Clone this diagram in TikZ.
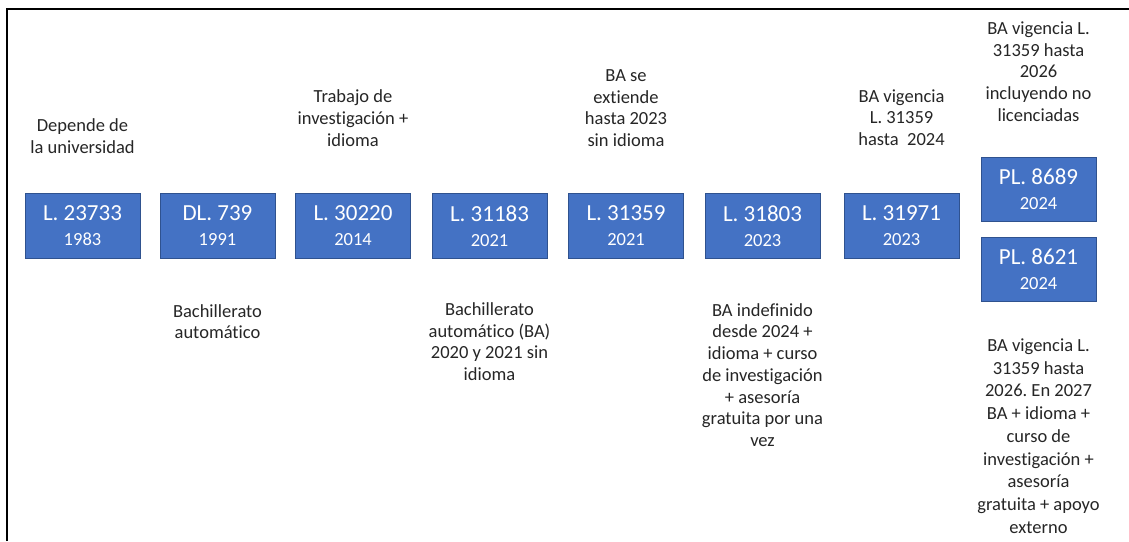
\documentclass[tikz,border=0pt]{standalone}
\usepackage{fontspec}
\setmainfont{Carlito}[Ligatures={NoCommon},RawFeature={-liga;-dlig}]
\frenchspacing
\definecolor{boxfill}{HTML}{4472C4}
\definecolor{boxline}{HTML}{2F528F}
\definecolor{txt}{HTML}{262626}
\begin{document}
\begin{tikzpicture}[x=1pt,y=-1pt,
  lawbox/.style={draw=boxline,line width=0.8pt,fill=boxfill,minimum width=115pt,minimum height=65pt,inner sep=0pt,text=white,align=center,font=\fontsize{23}{26}\selectfont},
  lbl/.style={text=txt,align=center,inner sep=0pt,font=\fontsize{18.5}{21.7}\selectfont},
  lblw/.style={text=txt,align=center,inner sep=0pt,font=\fontsize{18.5}{22.7}\selectfont}]
\useasboundingbox (0,0) rectangle (1129,541);
\fill[white] (0,0) rectangle (1129,541);
\coordinate (fl) at (7,541);
\coordinate (fc) at (7,9);
\coordinate (fr) at (1129,9);
\draw[line width=2pt] (fl) -- (fc) -- (fr);
\newcommand{\sm}[1]{{\fontsize{18.5}{22}\selectfont #1}}
\node[lawbox] (b1) at (82.5,226) {L. 23733\\[-1pt]\sm{1983}};
\node[lawbox] (b2) at (217.5,226) {DL. 739\\[-1pt]\sm{1991}};
\node[lawbox] (b3) at (353,226) {L. 30220\\[-1pt]\sm{2014}};
\node[lawbox] (b4) at (489.5,226) {L. 31183\\[-1pt]\sm{2021}};
\node[lawbox] (b5) at (626,226) {L. 31359\\[-1pt]\sm{2021}};
\node[lawbox] (b6) at (762.5,226) {L. 31803\\[-1pt]\sm{2023}};
\node[lawbox] (b7) at (901.5,226) {L. 31971\\[-1pt]\sm{2023}};
\node[lawbox,minimum height=64pt] (b8) at (1038.5,189) {PL. 8689\\[-1pt]\sm{2024}};
\node[lawbox,minimum height=64pt] (b9) at (1038.5,269) {PL. 8621\\[-1pt]\sm{2024}};
% top labels
\node[lbl] (t1) at (82.5,136) {Depende de\\la universidad};
\node[lbl] (t3) at (353,118) {Trabajo de\\investigación +\\idioma};
\node[lbl] (t5) at (626,108) {BA se\\extiende\\hasta 2023\\sin idioma};
\node[lbl] (t7) at (901.5,117.5) {BA vigencia\\L. 31359\\hasta\ \ 2024};
\node[lbl] (t8) at (1038.5,71.5) {BA vigencia L.\\31359 hasta\\2026\\incluyendo no\\licenciadas};
% bottom labels
\node[lbl] (u2) at (217.5,321.5) {Bachillerato\\automático};
\node[lbl] (u4) at (489.5,341.5) {Bachillerato\\automático (BA)\\2020 y 2021 sin\\idioma};
\node[lbl] (u6) at (762.5,375) {BA indefinido\\desde 2024 +\\idioma + curso\\de investigación\\+ asesoría\\gratuita por una\\vez};
\node[lblw] (u8) at (1038.5,436) {BA vigencia L.\\31359 hasta\\2026. En 2027\\BA + idioma +\\curso de\\investigación +\\asesoría\\gratuita + apoyo\\externo};
\end{tikzpicture}
\end{document}
